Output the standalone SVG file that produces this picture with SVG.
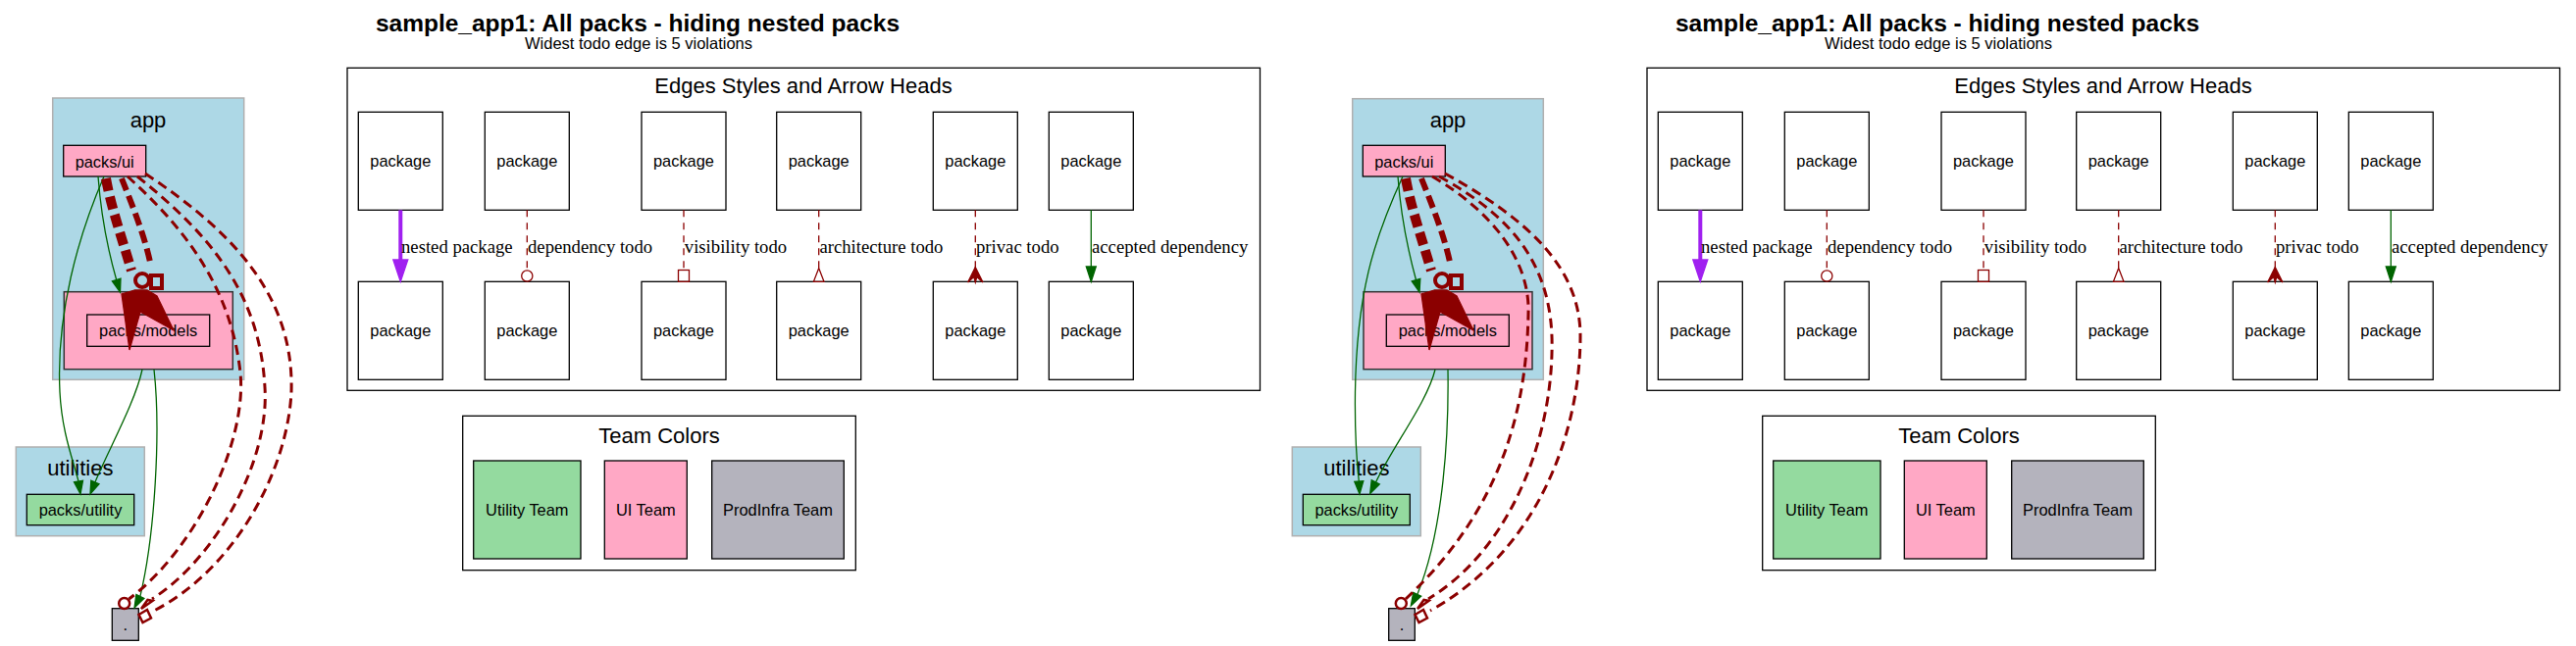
<svg xmlns="http://www.w3.org/2000/svg" width="2626" height="659" viewBox="0 0 2626 659">
<style>
.bg{fill:#ffffff}
.cl{fill:#add8e6;stroke:#b0b0b0;stroke-width:1.5}
.box{fill:#ffffff;stroke:#000000;stroke-width:1.3}
.pink{fill:#ffa8c5;stroke:#000000;stroke-width:1.3}
.pinkc{fill:#ffa8c5;stroke:#333333;stroke-width:1.5}
.green{fill:#94da9f;stroke:#000000;stroke-width:1.3}
.gray{fill:#b4b3bd;stroke:#000000;stroke-width:1.3}
.t{font-family:"Liberation Sans",Arial,Helvetica,sans-serif;fill:#000000;text-anchor:middle}
.n{font-size:16.4px}
.cll{font-size:22px}
.ttl{font-size:24.5px;font-weight:bold}
.sub{font-size:16.5px}
.lab{font-family:"Liberation Serif","Times New Roman",serif;font-size:18.7px;fill:#000000}
.eg{fill:none;stroke:#006400;stroke-width:1.3}
.hg{fill:#006400;stroke:#006400;stroke-width:1.3}
.ed{fill:none;stroke:#8b0000;stroke-width:3;stroke-dasharray:10,6}
.edl{fill:none;stroke:#8b0000;stroke-width:1.3;stroke-dasharray:7,6}
.ho{fill:none;stroke:#8b0000;stroke-width:2.5}
.hol{fill:none;stroke:#8b0000;stroke-width:1.3}
.hf{fill:#8b0000;stroke:#8b0000;stroke-width:1.3}
.et{fill:none;stroke:#8b0000;stroke-dasharray:13,6}
.ep{fill:none;stroke:#a020f0;stroke-width:4}
.hp{fill:#a020f0;stroke:#a020f0;stroke-width:1.3}
</style>
<rect class="bg" x="0" y="0" width="2626" height="659"/>

<!-- ================= LEFT COPY ================= -->
<g id="left">
<g id="L-title">
<text class="t ttl" x="650" y="32">sample_app1: All packs - hiding nested packs</text>
<text class="t sub" x="651" y="50">Widest todo edge is 5 violations</text>
</g>

<g id="L-cluster-app">
<rect class="cl" x="53.7" y="100" width="195" height="287.3"/>
<text class="t cll" x="151" y="130">app</text>
</g>
<g id="L-node-ui">
<rect class="pink" x="64.7" y="148.3" width="84" height="31.7"/>
<text class="t n" x="106.7" y="170.5">packs/ui</text>
</g>
<g id="L-node-models">
<rect class="pinkc" x="65.3" y="297.7" width="172" height="79"/>
<rect class="pink" x="88.7" y="321" width="125" height="32.3"/>
<text class="t n" x="151.2" y="343">packs/models</text>
</g>
<g id="L-cluster-utilities">
<rect class="cl" x="16.3" y="456" width="131" height="90.7"/>
<text class="t cll" x="81.8" y="485">utilities</text>
</g>
<g id="L-node-utility">
<rect class="green" x="27.3" y="504.3" width="109.4" height="31.4"/>
<text class="t n" x="82" y="526">packs/utility</text>
</g>
<g id="L-node-root">
<rect class="gray" x="114.3" y="620.7" width="27" height="32.6"/>
<text class="t n" x="127.8" y="643">.</text>
</g>

<g id="L-edges">
<!-- accepted dependencies -->
<path class="eg" d="M100,180 C103,220 110,255 118.7,285.5"/>
<polygon class="hg" points="122.5,298 114.4,286.8 123,284.2"/>
<path class="eg" d="M106,180 C80,240 57,320 61,400 C63,440 74,468 80,491"/>
<polygon class="hg" points="82,504 75.5,491.8 84.5,490.4"/>
<path class="eg" d="M145,377 C138,410 110,460 96.9,492"/>
<polygon class="hg" points="92,504 92.8,490.3 101,493.7"/>
<path class="eg" d="M157,377 C164,440 158,545 142.9,608.4"/>
<polygon class="hg" points="137,620 138.9,606.4 146.9,610.4"/>
<!-- todo edges to root -->
<path class="ed" d="M130,180 C185,230 235,290 245,380 C252,450 200,560 131.5,611"/>
<circle class="ho" cx="126.7" cy="615.5" r="5.5"/>
<path class="ed" d="M140,180 C215,240 265,300 270,395 C275,470 220,570 155,611"/>
<polygon class="ho" points="144,621 150.5,612 155.5,613"/>
<path class="ed" d="M148,177 C235,235 300,300 297,400 C293,480 240,580 157,623"/>
<polygon class="ho" points="141.5,627 150,622 154,630.5 145.5,635"/>
<!-- thick todo edges ui -> models -->
<path class="et" style="stroke-width:10" d="M108,182 C114,215 126,248 134,276"/>
<path class="et" style="stroke-width:6" d="M124,182 C136,212 148,242 154,272"/>
<circle class="ho" style="stroke-width:4" cx="145" cy="286" r="7"/>
<rect class="ho" style="stroke-width:4" x="154" y="281" width="11" height="13"/>
<polygon class="hf" points="137,296 124,300 132,357 143,318 177,337 160,302 150,296"/>
</g>
</g>

<!-- legend boxes (left) -->
<g id="L-legend-edges">
<rect class="box" x="354" y="69.3" width="930.5" height="329"/>
<text class="t cll" x="819" y="95">Edges Styles and Arrow Heads</text>
</g>
<g id="L-leg-n1a"><rect class="box" x="365.3" y="114.3" width="86" height="100"/><text class="t n" x="408.3" y="170.3">package</text></g>
<g id="L-leg-n1b"><rect class="box" x="365.3" y="287.3" width="86" height="100"/><text class="t n" x="408.3" y="343.3">package</text></g>
<g id="L-leg-n2a"><rect class="box" x="494.3" y="114.3" width="86" height="100"/><text class="t n" x="537.3" y="170.3">package</text></g>
<g id="L-leg-n2b"><rect class="box" x="494.3" y="287.3" width="86" height="100"/><text class="t n" x="537.3" y="343.3">package</text></g>
<g id="L-leg-n3a"><rect class="box" x="654" y="114.3" width="86" height="100"/><text class="t n" x="697" y="170.3">package</text></g>
<g id="L-leg-n3b"><rect class="box" x="654" y="287.3" width="86" height="100"/><text class="t n" x="697" y="343.3">package</text></g>
<g id="L-leg-n4a"><rect class="box" x="791.7" y="114.3" width="86" height="100"/><text class="t n" x="834.7" y="170.3">package</text></g>
<g id="L-leg-n4b"><rect class="box" x="791.7" y="287.3" width="86" height="100"/><text class="t n" x="834.7" y="343.3">package</text></g>
<g id="L-leg-n5a"><rect class="box" x="951.3" y="114.3" width="86" height="100"/><text class="t n" x="994.3" y="170.3">package</text></g>
<g id="L-leg-n5b"><rect class="box" x="951.3" y="287.3" width="86" height="100"/><text class="t n" x="994.3" y="343.3">package</text></g>
<g id="L-leg-n6a"><rect class="box" x="1069.3" y="114.3" width="86" height="100"/><text class="t n" x="1112.3" y="170.3">package</text></g>
<g id="L-leg-n6b"><rect class="box" x="1069.3" y="287.3" width="86" height="100"/><text class="t n" x="1112.3" y="343.3">package</text></g>
<g id="L-leg-edges">
<path class="ep" d="M408.3,214.3 V266"/>
<polygon class="hp" points="408.3,287.3 400.8,265 415.8,265"/>
<text class="lab" x="409" y="258.3">nested package</text>
<path class="edl" d="M537.3,214.3 V276"/>
<circle class="hol" cx="537.3" cy="281.5" r="5.6"/>
<text class="lab" x="538" y="258.3">dependency todo</text>
<path class="edl" d="M697,214.3 V275.5"/>
<rect class="hol" x="691.5" y="275.5" width="11" height="11.8"/>
<text class="lab" x="697.8" y="258.3">visibility todo</text>
<path class="edl" d="M834.7,214.3 V273.5"/>
<polygon class="hol" points="834.7,273.5 840,287.3 829.4,287.3"/>
<text class="lab" x="835.4" y="258.3">architecture todo</text>
<path class="edl" d="M994.3,214.3 V274"/>
<polygon class="hf" points="994.3,272.5 1002,288 995.8,282.5 994.3,288 992.8,282.5 986.6,288"/>
<text class="lab" x="995" y="258.3">privac todo</text>
<path class="eg" d="M1112.3,214.3 V272"/>
<polygon class="hg" points="1112.3,287.3 1107.3,272 1117.3,272"/>
<text class="lab" x="1113" y="258.3">accepted dependency</text>
</g>
<g id="L-legend-teams">
<rect class="box" x="471.7" y="424.3" width="400.6" height="157.4"/>
<text class="t cll" x="672" y="451.7">Team Colors</text>
</g>
<g id="L-team-utility"><rect class="green" x="482.7" y="470" width="109.3" height="100"/><text class="t n" x="537.3" y="526">Utility Team</text></g>
<g id="L-team-ui"><rect class="pink" x="616.3" y="470" width="84" height="100"/><text class="t n" x="658.3" y="526">UI Team</text></g>
<g id="L-team-prodinfra"><rect class="gray" x="725.7" y="470" width="134.6" height="100"/><text class="t n" x="793" y="526">ProdInfra Team</text></g>

<!-- ================= RIGHT COPY ================= -->
<g id="right">
<g id="R-title">
<text class="t ttl" x="1975" y="32">sample_app1: All packs - hiding nested packs</text>
<text class="t sub" x="1976" y="50">Widest todo edge is 5 violations</text>
</g>
<g id="R-cluster-app">
<rect class="cl" x="1378.7" y="100.7" width="194.6" height="286.6"/>
<text class="t cll" x="1476" y="130">app</text>
</g>
<g id="R-node-ui">
<rect class="pink" x="1389.3" y="148.3" width="84" height="31.7"/>
<text class="t n" x="1431.3" y="170.5">packs/ui</text>
</g>
<g id="R-node-models">
<rect class="pinkc" x="1390" y="297.7" width="172" height="79"/>
<rect class="pink" x="1413.3" y="321" width="125" height="32.3"/>
<text class="t n" x="1475.8" y="343">packs/models</text>
</g>
<g id="R-cluster-utilities">
<rect class="cl" x="1317.3" y="456" width="131" height="90.7"/>
<text class="t cll" x="1382.8" y="485">utilities</text>
</g>
<g id="R-node-utility">
<rect class="green" x="1328.3" y="504.3" width="109" height="31.4"/>
<text class="t n" x="1382.8" y="526">packs/utility</text>
</g>
<g id="R-node-root">
<rect class="gray" x="1415.7" y="620.7" width="26.6" height="32.6"/>
<text class="t n" x="1429" y="643">.</text>
</g>
<g id="R-edges">
<path class="eg" d="M1425,180 C1428,220 1436,258 1443.5,285.5"/>
<polygon class="hg" points="1447,298 1439.2,286.8 1447.8,284.3"/>
<path class="eg" d="M1430,180 C1400,245 1383,300 1381.5,400 C1381,440 1383,470 1385.3,491"/>
<polygon class="hg" points="1386,504 1380.8,491.3 1389.8,490.8"/>
<path class="eg" d="M1463,377 C1455,410 1420,455 1402.5,492"/>
<polygon class="hg" points="1396.7,503.5 1398.2,489.8 1406.3,494"/>
<path class="eg" d="M1476,377 C1477,440 1472,540 1445,606"/>
<polygon class="hg" points="1438.3,618 1440.7,604.5 1448.7,608.3"/>
<path class="ed" d="M1460,180 C1520,215 1560,265 1558,320 C1556,420 1530,520 1433,611"/>
<circle class="ho" cx="1428.3" cy="615.5" r="5.5"/>
<path class="ed" d="M1467,180 C1540,220 1585,270 1582,360 C1580,450 1540,560 1456,611"/>
<polygon class="ho" points="1445,621 1451.5,612 1456.5,613"/>
<path class="ed" d="M1473,177 C1560,225 1612,275 1611,345 C1610,440 1570,560 1458,623"/>
<polygon class="ho" points="1442.5,627 1451,622 1455,630.5 1446.5,635"/>
<path class="et" style="stroke-width:10" d="M1433,182 C1439,215 1451,248 1459,276"/>
<path class="et" style="stroke-width:6" d="M1449,182 C1461,212 1473,242 1479,272"/>
<circle class="ho" style="stroke-width:4" cx="1470" cy="286" r="7"/>
<rect class="ho" style="stroke-width:4" x="1479" y="281" width="11" height="13"/>
<polygon class="hf" points="1462,296 1449,300 1457,357 1468,318 1502,337 1485,302 1475,296"/>
</g>
</g>

<g transform="translate(1325,0)">
<g id="R-legend-edges">
<rect class="box" x="354" y="69.3" width="930.5" height="329"/>
<text class="t cll" x="819" y="95">Edges Styles and Arrow Heads</text>
</g>
<g id="R-leg-n1a"><rect class="box" x="365.3" y="114.3" width="86" height="100"/><text class="t n" x="408.3" y="170.3">package</text></g>
<g id="R-leg-n1b"><rect class="box" x="365.3" y="287.3" width="86" height="100"/><text class="t n" x="408.3" y="343.3">package</text></g>
<g id="R-leg-n2a"><rect class="box" x="494.3" y="114.3" width="86" height="100"/><text class="t n" x="537.3" y="170.3">package</text></g>
<g id="R-leg-n2b"><rect class="box" x="494.3" y="287.3" width="86" height="100"/><text class="t n" x="537.3" y="343.3">package</text></g>
<g id="R-leg-n3a"><rect class="box" x="654" y="114.3" width="86" height="100"/><text class="t n" x="697" y="170.3">package</text></g>
<g id="R-leg-n3b"><rect class="box" x="654" y="287.3" width="86" height="100"/><text class="t n" x="697" y="343.3">package</text></g>
<g id="R-leg-n4a"><rect class="box" x="791.7" y="114.3" width="86" height="100"/><text class="t n" x="834.7" y="170.3">package</text></g>
<g id="R-leg-n4b"><rect class="box" x="791.7" y="287.3" width="86" height="100"/><text class="t n" x="834.7" y="343.3">package</text></g>
<g id="R-leg-n5a"><rect class="box" x="951.3" y="114.3" width="86" height="100"/><text class="t n" x="994.3" y="170.3">package</text></g>
<g id="R-leg-n5b"><rect class="box" x="951.3" y="287.3" width="86" height="100"/><text class="t n" x="994.3" y="343.3">package</text></g>
<g id="R-leg-n6a"><rect class="box" x="1069.3" y="114.3" width="86" height="100"/><text class="t n" x="1112.3" y="170.3">package</text></g>
<g id="R-leg-n6b"><rect class="box" x="1069.3" y="287.3" width="86" height="100"/><text class="t n" x="1112.3" y="343.3">package</text></g>
<g id="R-leg-edges">
<path class="ep" d="M408.3,214.3 V266"/>
<polygon class="hp" points="408.3,287.3 400.8,265 415.8,265"/>
<text class="lab" x="409" y="258.3">nested package</text>
<path class="edl" d="M537.3,214.3 V276"/>
<circle class="hol" cx="537.3" cy="281.5" r="5.6"/>
<text class="lab" x="538" y="258.3">dependency todo</text>
<path class="edl" d="M697,214.3 V275.5"/>
<rect class="hol" x="691.5" y="275.5" width="11" height="11.8"/>
<text class="lab" x="697.8" y="258.3">visibility todo</text>
<path class="edl" d="M834.7,214.3 V273.5"/>
<polygon class="hol" points="834.7,273.5 840,287.3 829.4,287.3"/>
<text class="lab" x="835.4" y="258.3">architecture todo</text>
<path class="edl" d="M994.3,214.3 V274"/>
<polygon class="hf" points="994.3,272.5 1002,288 995.8,282.5 994.3,288 992.8,282.5 986.6,288"/>
<text class="lab" x="995" y="258.3">privac todo</text>
<path class="eg" d="M1112.3,214.3 V272"/>
<polygon class="hg" points="1112.3,287.3 1107.3,272 1117.3,272"/>
<text class="lab" x="1113" y="258.3">accepted dependency</text>
</g>
<g id="R-legend-teams">
<rect class="box" x="471.7" y="424.3" width="400.6" height="157.4"/>
<text class="t cll" x="672" y="451.7">Team Colors</text>
</g>
<g id="R-team-utility"><rect class="green" x="482.7" y="470" width="109.3" height="100"/><text class="t n" x="537.3" y="526">Utility Team</text></g>
<g id="R-team-ui"><rect class="pink" x="616.3" y="470" width="84" height="100"/><text class="t n" x="658.3" y="526">UI Team</text></g>
<g id="R-team-prodinfra"><rect class="gray" x="725.7" y="470" width="134.6" height="100"/><text class="t n" x="793" y="526">ProdInfra Team</text></g>
</g>
</svg>
